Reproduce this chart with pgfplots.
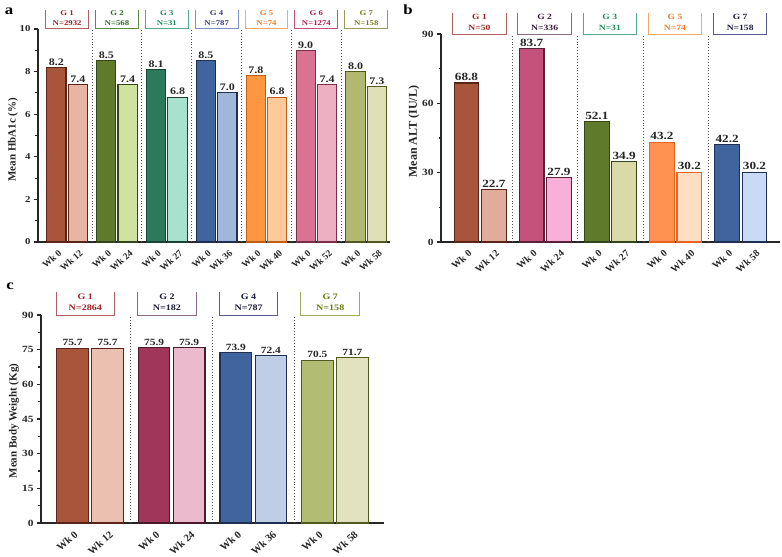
\documentclass[border=0pt]{standalone}
\usepackage{pgfplots}
\pgfplotsset{compat=1.18}
\usepackage{fontspec}
\setmainfont{Liberation Serif}[FakeStretch=1.2]
\newfontfamily\plainserif{Liberation Serif}

% panel a colours
\definecolor{aA1}{HTML}{A8553B}\definecolor{aA2}{HTML}{E8B5A5}\definecolor{aAo}{HTML}{5A2419}
\definecolor{aB1}{HTML}{5F7A2B}\definecolor{aB2}{HTML}{D0E2A0}\definecolor{aBo}{HTML}{33461A}
\definecolor{aC1}{HTML}{2B7A5C}\definecolor{aC2}{HTML}{A8E2CE}\definecolor{aCo}{HTML}{1A4536}
\definecolor{aD1}{HTML}{40649E}\definecolor{aD2}{HTML}{A0B7D9}\definecolor{aDo}{HTML}{1F2F52}
\definecolor{aE1}{HTML}{FF9640}\definecolor{aE2}{HTML}{FFCA98}\definecolor{aEo}{HTML}{C06018}
\definecolor{aF1}{HTML}{D97391}\definecolor{aF2}{HTML}{EDB0C2}\definecolor{aFo}{HTML}{7A2E48}
\definecolor{aG1}{HTML}{B2B872}\definecolor{aG2}{HTML}{E0E0B8}\definecolor{aGo}{HTML}{505A20}
% panel b colours
\definecolor{bA1}{HTML}{A8553B}\definecolor{bA2}{HTML}{E2AC9C}\definecolor{bAo}{HTML}{5A2419}
\definecolor{bB1}{HTML}{C5527A}\definecolor{bB2}{HTML}{F8B0D8}\definecolor{bBo}{HTML}{5A2238}
\definecolor{bC1}{HTML}{5F7A2B}\definecolor{bC2}{HTML}{DADAA8}\definecolor{bCo}{HTML}{33461A}
\definecolor{bD1}{HTML}{FF9250}\definecolor{bD2}{HTML}{FFDEC4}\definecolor{bDo}{HTML}{E86420}
\definecolor{bE1}{HTML}{40649E}\definecolor{bE2}{HTML}{C8DAF5}\definecolor{bEo}{HTML}{1F2F52}
% panel c colours
\definecolor{cA1}{HTML}{A8553B}\definecolor{cA2}{HTML}{EBC0B0}\definecolor{cAo}{HTML}{5A2419}
\definecolor{cB1}{HTML}{A0365A}\definecolor{cB2}{HTML}{EBBACC}\definecolor{cBo}{HTML}{4A1A2C}
\definecolor{cC1}{HTML}{40649E}\definecolor{cC2}{HTML}{BFCDE6}\definecolor{cCo}{HTML}{1F2F52}
\definecolor{cD1}{HTML}{B2BC72}\definecolor{cD2}{HTML}{E2E2BE}\definecolor{cDo}{HTML}{505A20}
% header colours
\definecolor{hRedT}{HTML}{9B2226}\definecolor{hRedB}{HTML}{B06060}
\definecolor{hGrnT}{HTML}{2E6B1F}\definecolor{hGrnB}{HTML}{5A8A45}
\definecolor{hTealT}{HTML}{1E8A5A}\definecolor{hTealB}{HTML}{55A888}
\definecolor{hBluT}{HTML}{3A3A7A}\definecolor{hBluB}{HTML}{8090C8}
\definecolor{hOrT}{HTML}{F07828}\definecolor{hOrB}{HTML}{F5A868}
\definecolor{hPkT}{HTML}{B0184A}\definecolor{hPkB}{HTML}{C85078}
\definecolor{hOlT}{HTML}{7A7A20}\definecolor{hOlB}{HTML}{9A9A58}
\definecolor{hPuT}{HTML}{3A1A3A}\definecolor{hPuB}{HTML}{8A6A82}
\definecolor{hNvT}{HTML}{1A1A3A}\definecolor{hNvB}{HTML}{5A5A8A}
\definecolor{hOl2T}{HTML}{6A7A10}\definecolor{hOl2B}{HTML}{9AAA58}
\definecolor{sepc}{HTML}{555555}
\definecolor{axc}{HTML}{262626}

% header box: xl, xr, ytop, height, boxcolour, textcolour, text, font style
\newcommand{\grpbox}[8]{%
  \draw[#5, line width=1bp] (axis cs:#1,#3) ++(0pt,#4) -- ++(0pt,-#4) -- (axis cs:#2,#3) -- ++(0pt,#4);
  \path (axis cs:#1,#3) -- (axis cs:#2,#3) node[midway, yshift={0.5*#4+1.5bp}, text=#6, align=center, inner sep=0pt, #8] {#7};
}

\pgfplotsset{
  myaxis/.style={
    scale only axis, anchor=south west,
    axis x line*=bottom, axis y line*=left,
    axis line style={-, line width=1.3bp, axc},
    ymin=0, enlargelimits=false, clip=false,
    tick align=outside,
    major tick length=4bp, minor tick length=2.5bp,
    ytick style={line width=1.1bp, axc},
    minor y tick num=1,
    xtick style={draw=none},
    /pgf/number format/assume math mode=true,
    xticklabel style={rotate=42, anchor=north east, inner sep=1bp, text=axc, yshift=-2bp},
    yticklabel style={text=axc},
    every axis y label/.style={rotate=90, anchor=center, text=axc},
  },
  bb/.style 2 args={ybar, bar width=0.9, bar shift=0pt, fill=#1, draw=#2, line width=1.1bp,
    nodes near coords={\pgfmathprintnumber[fixed,fixed zerofill,precision=1]{\pgfplotspointmeta}},
    every node near coord/.append style={text=axc, inner sep=1.5bp}},
}

\tikzset{
  grpA/.style={font=\bfseries\fontsize{7.3bp}{10bp}\selectfont},
  grpB/.style={font=\bfseries\fontsize{8bp}{11bp}\selectfont},
  grpC/.style={font=\bfseries\fontsize{8.4bp}{11bp}\selectfont},
}

\begin{document}
\begin{tikzpicture}
\useasboundingbox (0,0) rectangle (782bp,557bp);

% ---------------- panel a ----------------
\begin{axis}[myaxis,
  at={(38bp,315bp)}, width=352bp, height=213bp,
  xmin=-0.86, xmax=15.59, ymax=10, ytick={0,2,...,10},
  xtick={0,1,2.33,3.33,4.66,5.66,6.99,7.99,9.32,10.32,11.65,12.65,13.98,14.98},
  xticklabels={Wk 0,Wk 12,Wk 0,Wk 24,Wk 0,Wk 27,Wk 0,Wk 36,Wk 0,Wk 40,Wk 0,Wk 52,Wk 0,Wk 58},
  xticklabel style={font=\plainserif\bfseries\fontsize{9.5bp}{11bp}\selectfont},
  yticklabel style={font=\bfseries\fontsize{9bp}{10bp}\selectfont},
  ylabel={Mean HbA1c (\%)},
  ylabel style={at={(axis description cs:-0.071,0.48)}, font=\plainserif\bfseries\fontsize{11bp}{13bp}\selectfont},
  every node near coord/.append style={font=\bfseries\fontsize{10bp}{12bp}\selectfont},
]
\addplot[bb={aA1}{aAo}] coordinates {(0,8.2)};
\addplot[bb={aA2}{aAo}] coordinates {(1,7.4)};
\addplot[bb={aB1}{aBo}] coordinates {(2.33,8.5)};
\addplot[bb={aB2}{aBo}] coordinates {(3.33,7.4)};
\addplot[bb={aC1}{aCo}] coordinates {(4.66,8.1)};
\addplot[bb={aC2}{aCo}] coordinates {(5.66,6.8)};
\addplot[bb={aD1}{aDo}] coordinates {(6.99,8.5)};
\addplot[bb={aD2}{aDo}] coordinates {(7.99,7.0)};
\addplot[bb={aE1}{aEo}] coordinates {(9.32,7.8)};
\addplot[bb={aE2}{aEo}] coordinates {(10.32,6.8)};
\addplot[bb={aF1}{aFo}] coordinates {(11.65,9.0)};
\addplot[bb={aF2}{aFo}] coordinates {(12.65,7.4)};
\addplot[bb={aG1}{aGo}] coordinates {(13.98,8.0)};
\addplot[bb={aG2}{aGo}] coordinates {(14.98,7.3)};
\foreach \s in {1.665,3.995,6.325,8.655,10.985,13.315}{
  \edef\temp{\noexpand\draw[sepc, dotted, line width=0.9bp] (axis cs:\s,0) -- (axis cs:\s,10);}\temp
}
\grpbox{-0.5}{1.5}{10}{19bp}{hRedB}{hRedT}{G 1\\N=2932}{grpA}
\grpbox{1.83}{3.83}{10}{19bp}{hGrnB}{hGrnT}{G 2\\N=568}{grpA}
\grpbox{4.16}{6.16}{10}{19bp}{hTealB}{hTealT}{G 3\\N=31}{grpA}
\grpbox{6.49}{8.49}{10}{19bp}{hBluB}{hBluT}{G 4\\N=787}{grpA}
\grpbox{8.82}{10.82}{10}{19bp}{hOrB}{hOrT}{G 5\\N=74}{grpA}
\grpbox{11.15}{13.15}{10}{19bp}{hPkB}{hPkT}{G 6\\N=1274}{grpA}
\grpbox{13.48}{15.48}{10}{19bp}{hOlB}{hOlT}{G 7\\N=158}{grpA}
\end{axis}

% ---------------- panel b ----------------
\begin{axis}[myaxis,
  at={(441bp,315bp)}, width=339bp, height=208bp,
  xmin=-0.93, xmax=11.45, ymax=90, ytick={0,30,60,90},
  xtick={0,1,2.38,3.38,4.76,5.76,7.14,8.14,9.52,10.52},
  xticklabels={Wk 0,Wk 12,Wk 0,Wk 24,Wk 0,Wk 27,Wk 0,Wk 40,Wk 0,Wk 58},
  xticklabel style={font=\plainserif\bfseries\fontsize{10bp}{12bp}\selectfont},
  yticklabel style={font=\bfseries\fontsize{9.5bp}{11bp}\selectfont},
  ylabel={Mean ALT (IU/L)},
  ylabel style={at={(axis description cs:-0.08,0.53)}, font=\plainserif\bfseries\fontsize{12bp}{14bp}\selectfont},
  every node near coord/.append style={font=\bfseries\fontsize{11bp}{13bp}\selectfont},
]
\addplot[bb={bA1}{bAo}] coordinates {(0,68.8)};
\addplot[bb={bA2}{bAo}] coordinates {(1,22.7)};
\addplot[bb={bB1}{bBo}] coordinates {(2.38,83.7)};
\addplot[bb={bB2}{bBo}] coordinates {(3.38,27.9)};
\addplot[bb={bC1}{bCo}] coordinates {(4.76,52.1)};
\addplot[bb={bC2}{bCo}] coordinates {(5.76,34.9)};
\addplot[bb={bD1}{bDo}] coordinates {(7.14,43.2)};
\addplot[bb={bD2}{bDo}] coordinates {(8.14,30.2)};
\addplot[bb={bE1}{bEo}] coordinates {(9.52,42.2)};
\addplot[bb={bE2}{bEo}] coordinates {(10.52,30.2)};
\foreach \s in {1.69,4.07,6.45,8.83}{
  \edef\temp{\noexpand\draw[sepc, dotted, line width=0.9bp] (axis cs:\s,0) -- (axis cs:\s,90);}\temp
}
\grpbox{-0.5}{1.45}{90}{21bp}{hRedB}{hRedT}{G 1\\N=50}{grpB}
\grpbox{1.88}{3.83}{90}{21bp}{hPuB}{hPuT}{G 2\\N=336}{grpB}
\grpbox{4.26}{6.21}{90}{21bp}{hTealB}{hTealT}{G 3\\N=31}{grpB}
\grpbox{6.64}{8.59}{90}{21bp}{hOrB}{hOrT}{G 5\\N=74}{grpB}
\grpbox{9.02}{10.97}{90}{21bp}{hNvB}{hNvT}{G 7\\N=158}{grpB}
\end{axis}

% ---------------- panel c ----------------
\begin{axis}[myaxis,
  at={(41bp,34bp)}, width=343bp, height=208bp,
  xmin=-0.9, xmax=8.89, ymax=90, ytick={0,15,...,90},
  xtick={0,1,2.33,3.33,4.66,5.66,6.99,7.99},
  xticklabels={Wk 0,Wk 12,Wk 0,Wk 24,Wk 0,Wk 36,Wk 0,Wk 58},
  xticklabel style={font=\plainserif\bfseries\fontsize{10.5bp}{12bp}\selectfont},
  yticklabel style={font=\bfseries\fontsize{9.5bp}{11bp}\selectfont},
  ylabel={Mean Body Weight (Kg)},
  ylabel style={at={(axis description cs:-0.079,0.49)}, font=\plainserif\bfseries\fontsize{11bp}{13bp}\selectfont},
  every node near coord/.append style={font=\bfseries\fontsize{9.5bp}{11bp}\selectfont},
]
\addplot[bb={cA1}{cAo}] coordinates {(0,75.7)};
\addplot[bb={cA2}{cAo}] coordinates {(1,75.7)};
\addplot[bb={cB1}{cBo}] coordinates {(2.33,75.9)};
\addplot[bb={cB2}{cBo}] coordinates {(3.33,75.9)};
\addplot[bb={cC1}{cCo}] coordinates {(4.66,73.9)};
\addplot[bb={cC2}{cCo}] coordinates {(5.66,72.4)};
\addplot[bb={cD1}{cDo}] coordinates {(6.99,70.5)};
\addplot[bb={cD2}{cDo}] coordinates {(7.99,71.7)};
\foreach \s in {1.665,3.995,6.325}{
  \edef\temp{\noexpand\draw[sepc, dotted, line width=0.9bp] (axis cs:\s,0) -- (axis cs:\s,90);}\temp
}
\grpbox{-0.47}{1.2}{90}{23bp}{hRedB}{hRedT}{G 1\\N=2864}{grpC}
\grpbox{1.86}{3.53}{90}{23bp}{hPuB}{hNvT}{G 2\\N=182}{grpC}
\grpbox{4.19}{5.86}{90}{23bp}{hNvB}{hNvT}{G 4\\N=787}{grpC}
\grpbox{6.52}{8.19}{90}{23bp}{hOl2B}{hOl2T}{G 7\\N=158}{grpC}
\end{axis}

% panel letters
\node[font=\bfseries\fontsize{14bp}{14bp}\selectfont, text=black] at (9bp,546bp) {a};
\node[font=\bfseries\fontsize{14bp}{14bp}\selectfont, text=black] at (408bp,547bp) {b};
\node[font=\bfseries\fontsize{14bp}{14bp}\selectfont, text=black] at (10bp,271bp) {c};
\end{tikzpicture}
\end{document}
